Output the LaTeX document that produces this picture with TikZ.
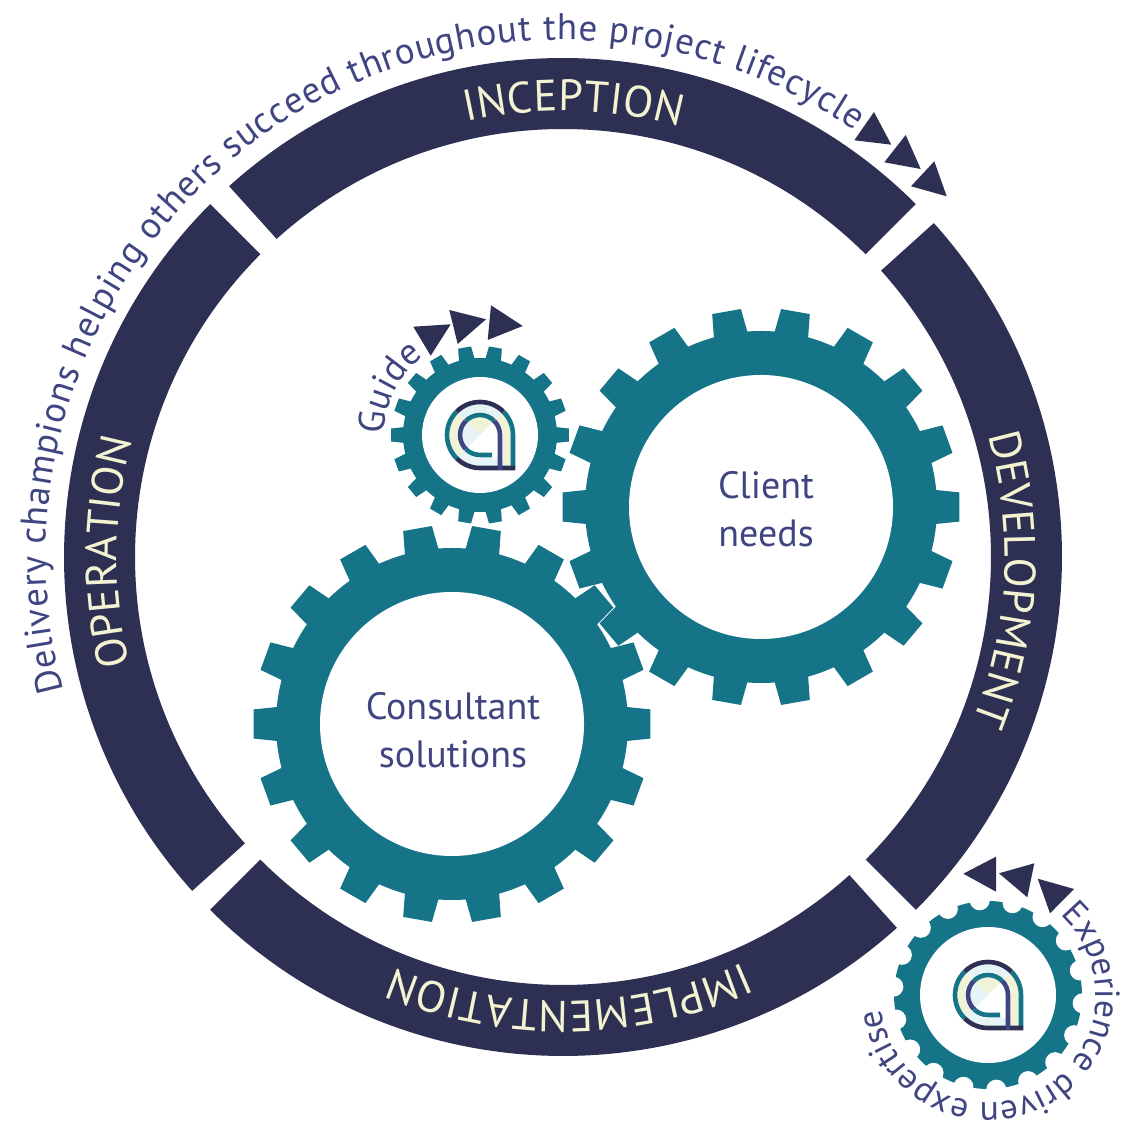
\documentclass[tikz,border=0pt]{standalone}
\usepackage{fontspec}
\setmainfont{PT Sans}
\usetikzlibrary{decorations.text}
\definecolor{bandnavy}{HTML}{2D3053}
\definecolor{gearteal}{HTML}{157487}
\definecolor{bandcream}{HTML}{F3F3D2}
\definecolor{textblue}{HTML}{3F4580}
\definecolor{logoblue}{HTML}{E6F3F7}
\definecolor{logocream}{HTML}{F1F3D8}
\newcommand{\ringfont}{\fontsize{37}{37}\selectfont}
\newcommand{\bandfont}{\fontsize{44}{44}\selectfont}
\newcommand{\smallfont}{\fontsize{35}{35}\selectfont}
% one band of the ring
\newcommand{\ringband}[2]{
\fill[bandnavy] (#1:499) arc[start angle=#1,end angle=#2,radius=499] -- (#2:428) arc[start angle=#2,end angle=#1,radius=428] -- cycle;}
% text round a centre: centre, radius, from, to, colour and format, text
\newcommand{\arctext}[6]{
\path[shift={(#1)},decorate,decoration={text along path,text={|#5|#6},text align=fit to path}] (#3:#2) arc[start angle=#3,end angle=#4,radius=#2];}
% gear: centre, hole, root, tip, phase, half widths
\newcommand{\gearwheel}[7]{
\begin{scope}[shift={(#1)}]
\fill[gearteal] (0,0) circle[radius=#3];
\foreach \k in {0,20,...,340}{
\fill[gearteal] (\k+#5-#6:#3-1) -- (\k+#5-#7:#4) -- (\k+#5+#7:#4) -- (\k+#5+#6:#3-1) -- cycle;}
\fill[white] (0,0) circle[radius=#2];
\end{scope}}
% logo mark
\newcommand{\logomark}[1]{
\begin{scope}[shift={(#1)},line width=4.6]
\fill[logocream] (0,0) -- (45:19) arc[start angle=45,end angle=135,radius=19] -- cycle;
\fill[logoblue] (0,0) -- (135:19) arc[start angle=135,end angle=225,radius=19] -- cycle;
\draw[logoblue,line width=8] (45:27) arc[start angle=45,end angle=135,radius=27];
\draw[logocream,line width=8] (135:27) arc[start angle=135,end angle=225,radius=27];
\draw[logoblue,line width=8] (225:27) arc[start angle=225,end angle=270,radius=27] -- (26,-27);
\draw[logocream,line width=8] (45:27) arc[start angle=45,end angle=0,radius=27] -- (27,-35);
\draw[gearteal] (135:33) arc[start angle=135,end angle=225,radius=33];
\draw[gearteal] (45:33) arc[start angle=45,end angle=0,radius=33] -- (33,-35);
\draw[bandnavy] (45:33) arc[start angle=45,end angle=135,radius=33];
\draw[bandnavy] (225:33) arc[start angle=225,end angle=270,radius=33] -- (35,-33);
\draw[gearteal] (45:20) arc[start angle=45,end angle=135,radius=20];
\draw[gearteal] (225:20) arc[start angle=225,end angle=270,radius=20] -- (12,-20);
\draw[textblue] (135:20) arc[start angle=135,end angle=225,radius=20];
\draw[textblue] (45:20) arc[start angle=45,end angle=0,radius=20] -- (20,-35);
\end{scope}}
\begin{document}
\begin{tikzpicture}[x=1pt,y=1pt,
  every node/.style={text=textblue,font=\fontsize{38}{48}\selectfont,align=center},
  arrowmark/.style={fill=bandnavy}]
\useasboundingbox (0,0) rectangle (1145,1147);
\coordinate (ringc) at (563,590);
\coordinate (guidec) at (480,712);
\coordinate (clientc) at (761,640);
\coordinate (consultc) at (452,423);
\coordinate (expertc) at (988,152);
% Ring
\begin{scope}[shift={(ringc)}]
\ringband{132}{45}
\ringband{42}{-45}
\ringband{-48}{-135}
\ringband{-138}{-225}
\end{scope}
\arctext{ringc}{446}{102.5}{74.8}{\color{bandcream}\bandfont}{INCEPTION}
\arctext{ringc}{442}{16}{-21.8}{\color{bandcream}\bandfont}{DEVELOPMENT}
\arctext{ringc}{444}{-66}{-112.4}{\color{bandcream}\bandfont}{IMPLEMENTATION}
\arctext{ringc}{446}{194}{166}{\color{bandcream}\bandfont}{OPERATION}
\arctext{ringc}{517}{195}{55.6}{\color{textblue}\ringfont}{Delivery champions helping others succeed throughout the project lifecycle}
% Gears
\gearwheel{clientc}{132}{176}{199}{0}{5.6}{4.2}
\gearwheel{consultc}{132}{176}{199}{0}{5.6}{4.2}
\gearwheel{guidec}{58}{77}{89}{0}{6}{4.2}
\node (client) at (766,638) {Client\\needs};
\node (consult) at (453,417) {Consultant\\solutions};
\arctext{guidec}{96}{180}{128}{\color{textblue}\fontsize{37}{37}\selectfont}{Guide}
% Bottom gear
\begin{scope}[shift={(expertc)}]
\fill[gearteal] (0,0) circle[radius=94];
\foreach \k in {-5,15,...,335}{
\fill[white] (\k:95) circle[radius=10];}
\fill[white] (0,0) circle[radius=68];
\end{scope}
\arctext{expertc}{108}{48}{-172}{\color{textblue}\smallfont}{Experience driven expertise}
\logomark{guidec}
\logomark{expertc}
% Arrow marks
\fill[arrowmark] (874,1035) -- (891.3,1002.3) -- (854.3,1006.7) -- cycle;
\fill[arrowmark] (905.7,1012) -- (920.7,978) -- (884.3,984.7) -- cycle;
\fill[arrowmark] (934.3,985.7) -- (946.7,950.7) -- (911,960.7) -- cycle;
\fill[arrowmark] (413.3,820.3) -- (450.7,822.7) -- (430.7,791.3) -- cycle;
\fill[arrowmark] (449.3,837) -- (486,827.7) -- (457.7,803) -- cycle;
\fill[arrowmark] (491,841.7) -- (522.7,821) -- (487.7,807) -- cycle;
\fill[arrowmark] (963.3,273.3) -- (996,290.3) -- (996,255.3) -- cycle;
\fill[arrowmark] (999,273.7) -- (1034.3,283.7) -- (1027.3,249.7) -- cycle;
\fill[arrowmark] (1037.7,268.3) -- (1074,258) -- (1050,233.7) -- cycle;
\end{tikzpicture}
\end{document}
